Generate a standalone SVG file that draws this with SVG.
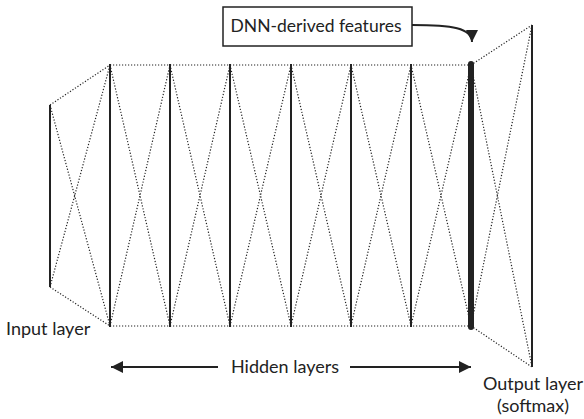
<svg xmlns="http://www.w3.org/2000/svg" width="584" height="419" viewBox="0 0 584 419">
<style>
.dot{stroke:#222;stroke-width:1.2;stroke-dasharray:1.2 1.8;fill:none}
.lay{stroke:#222;stroke-width:2;fill:none}
.txt{font-family:Lato,"Open Sans",sans-serif;font-size:18px;fill:#222}
</style>
<defs>
<marker id="ah2" viewBox="0 0 10 10" refX="10" refY="5" markerWidth="12" markerHeight="12" markerUnits="userSpaceOnUse" orient="auto"><path d="M0,0 L10,5 L0,10 z" fill="#222"/></marker>
</defs>
<g id="connectors">
<path class="dot" d="M50,105 L110,65 M50,287 L110,326 M50,105 L110,326 M50,287 L110,65"/>
<path class="dot" d="M110,65 L471,65 M110,326 L471,326"/>
<path class="dot" d="M110,65 L170,326 M110,326 L170,65 M170,65 L230,326 M170,326 L230,65 M230,65 L291,326 M230,326 L291,65 M291,65 L351,326 M291,326 L351,65 M351,65 L411,326 M351,326 L411,65 M411,65 L471,326 M411,326 L471,65"/>
<path class="dot" d="M471,65 L532,25 M471,326 L532,367 M471,65 L532,367 M471,326 L532,25"/>
<path d="M412,25 C452,25 472,28 472,42" stroke="#222" stroke-width="2" fill="none" marker-end="url(#ah2)"/>
<path d="M218,367 L111,367" stroke="#222" stroke-width="2" fill="none" marker-end="url(#ah2)"/>
<path d="M350,367 L471,367" stroke="#222" stroke-width="2" fill="none" marker-end="url(#ah2)"/>
</g>
<g id="input-layer"><line class="lay" x1="50" y1="105" x2="50" y2="287"/><text class="txt" x="6" y="335">Input layer</text></g>
<g id="hidden-1"><line class="lay" x1="110" y1="64" x2="110" y2="327"/></g>
<g id="hidden-2"><line class="lay" x1="170" y1="64" x2="170" y2="327"/></g>
<g id="hidden-3"><line class="lay" x1="230" y1="64" x2="230" y2="327"/></g>
<g id="hidden-4"><line class="lay" x1="291" y1="64" x2="291" y2="327"/></g>
<g id="hidden-5"><line class="lay" x1="351" y1="64" x2="351" y2="327"/></g>
<g id="hidden-6"><line class="lay" x1="411" y1="64" x2="411" y2="327"/></g>
<g id="hidden-7"><line x1="471" y1="64" x2="471" y2="327" stroke="#222" stroke-width="6" stroke-linecap="round"/></g>
<g id="output-layer"><line class="lay" x1="532" y1="25" x2="532" y2="367"/><text class="txt" x="533" y="390" text-anchor="middle">Output layer</text><text class="txt" x="533" y="412" text-anchor="middle">(softmax)</text></g>
<g id="dnn-box"><rect x="223" y="7" width="189" height="39" fill="#fff" stroke="#222" stroke-width="1.5"/><text class="txt" x="316" y="32" text-anchor="middle" style="font-size:17.5px">DNN-derived features</text></g>
<g id="hidden-label"><text class="txt" x="285" y="373" text-anchor="middle">Hidden layers</text></g>
</svg>
